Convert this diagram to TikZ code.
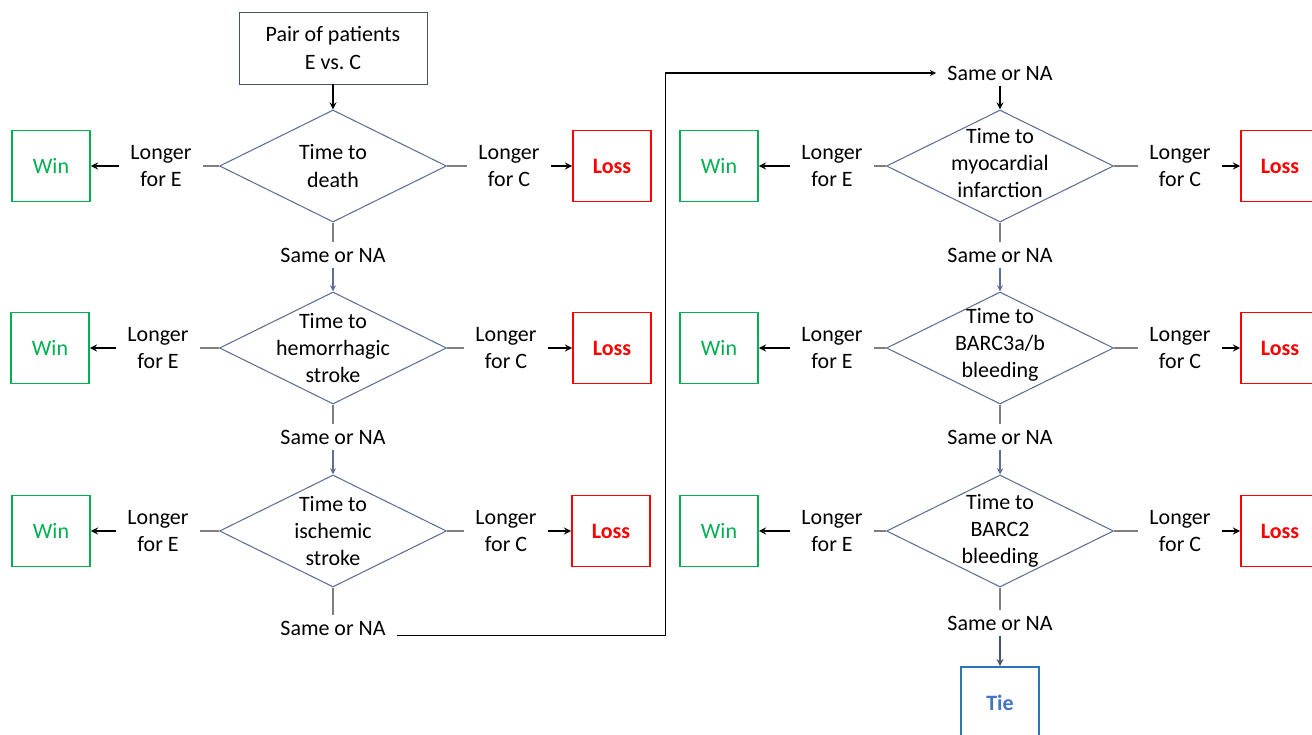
\documentclass[tikz,border=0pt]{standalone}
\usepackage{fontspec}
\setmainfont{Carlito}
\usetikzlibrary{shapes.geometric, arrows}
\definecolor{wingreen}{HTML}{00B050}
\definecolor{lossred}{HTML}{FF0000}
\definecolor{tieblue}{HTML}{4472C4}
\definecolor{tieframe}{HTML}{2E75B6}
\definecolor{diamondblue}{HTML}{5E6F96}
\definecolor{startframe}{HTML}{44546A}
\definecolor{stubgray}{HTML}{7F7F7F}
\newcommand{\figfont}{\fontsize{12.5}{15.4}\selectfont}
\tikzstyle{startbox} = [rectangle, minimum width=3.76cm, minimum height=1.44cm, align=center, draw=startframe, line width=0.5pt]
\tikzstyle{decision} = [diamond, minimum width=4.54cm, minimum height=2.24cm, inner sep=0pt, draw=diamondblue, line width=0.6pt]
\tikzstyle{dtext} = [align=center, inner sep=0pt]
\tikzstyle{win} = [rectangle, minimum width=1.56cm, minimum height=1.42cm, draw=wingreen, text=wingreen, line width=1.1pt]
\tikzstyle{loss} = [rectangle, minimum width=1.56cm, minimum height=1.42cm, draw=lossred, text=lossred, line width=1.1pt, font=\figfont\bfseries]
\tikzstyle{tie} = [rectangle, minimum width=1.56cm, minimum height=1.44cm, draw=tieframe, text=tieblue, line width=1.1pt, font=\figfont\bfseries]
\tikzstyle{lbl} = [align=center, inner xsep=0.22cm, inner ysep=0.1cm]
\tikzstyle{arrow} = [thick,->,>=stealth]
\tikzstyle{stub} = [draw=stubgray, line width=0.7pt]
\tikzstyle{downarrow} = [->,>=stealth, draw=diamondblue, line width=0.6pt]
\tikzstyle{tiearrow} = [thick,->,>=stealth, draw=startframe]

\begin{document}
\begin{tikzpicture}[font=\figfont]
\useasboundingbox (0,0) rectangle (26.24,-14.7);
\clip (0,0) rectangle (26.24,-14.7);

\node (start) [startbox] at (6.66,-0.96) {Pair of patients\\E vs.\ C};

% left column
\node (d1) [decision, below of=start, node distance=2.36cm] {};
\node (d1t) [dtext] at (d1) {Time to\\death};
\node (d2) [decision, below of=d1, node distance=3.64cm] {};
\node (d2t) [dtext] at (d2) {Time to\\hemorrhagic\\stroke};
\node (d3) [decision, below of=d2, node distance=3.66cm] {};
\node (d3t) [dtext] at (d3) {Time to\\ischemic\\stroke};

\node (win1) [win, left of=d1, node distance=5.64cm] {Win};
\node (win2) [win, left of=d2, node distance=5.66cm] {Win};
\node (win3) [win, left of=d3, node distance=5.64cm] {Win};
\node (loss1) [loss, right of=d1, node distance=5.58cm] {Loss};
\node (loss2) [loss, right of=d2, node distance=5.58cm] {Loss};
\node (loss3) [loss, right of=d3, node distance=5.56cm] {Loss};

\node (le1) [lbl, left of=d1, node distance=3.44cm] {Longer\\for E};
\node (le2) [lbl, left of=d2, node distance=3.5cm] {Longer\\for E};
\node (le3) [lbl, left of=d3, node distance=3.5cm] {Longer\\for E};
\node (lc1) [lbl, right of=d1, node distance=3.52cm] {Longer\\for C};
\node (lc2) [lbl, right of=d2, node distance=3.46cm] {Longer\\for C};
\node (lc3) [lbl, right of=d3, node distance=3.46cm] {Longer\\for C};

\node (sna1) [lbl, below of=d1, node distance=1.78cm] {Same or NA};
\node (sna2) [lbl, below of=d2, node distance=1.78cm] {Same or NA};
\node (sna3) [lbl, below of=d3, node distance=1.94cm] {Same or NA};

% right column
\node (d4) [decision, right of=d1, node distance=13.34cm] {};
\node (d4t) [dtext] at ([yshift=0.06cm]d4) {Time to\\myocardial\\infarction};
\node (d5) [decision, below of=d4, node distance=3.64cm] {};
\node (d5t) [dtext] at ([yshift=0.06cm]d5) {Time to\\BARC3a/b\\bleeding};
\node (d6) [decision, below of=d5, node distance=3.66cm] {};
\node (d6t) [dtext] at (d6) {Time to\\BARC2\\bleeding};

\node (win4) [win, left of=d4, node distance=5.62cm] {Win};
\node (win5) [win, left of=d5, node distance=5.62cm] {Win};
\node (win6) [win, left of=d6, node distance=5.62cm] {Win};
\node (loss4) [loss, right of=d4, node distance=5.6cm] {Loss};
\node (loss5) [loss, right of=d5, node distance=5.6cm] {Loss};
\node (loss6) [loss, right of=d6, node distance=5.6cm] {Loss};

\node (le4) [lbl, left of=d4, node distance=3.36cm] {Longer\\for E};
\node (le5) [lbl, left of=d5, node distance=3.36cm] {Longer\\for E};
\node (le6) [lbl, left of=d6, node distance=3.36cm] {Longer\\for E};
\node (lc4) [lbl, right of=d4, node distance=3.6cm] {Longer\\for C};
\node (lc5) [lbl, right of=d5, node distance=3.6cm] {Longer\\for C};
\node (lc6) [lbl, right of=d6, node distance=3.6cm] {Longer\\for C};

\node (sna4) [lbl, above of=d4, node distance=1.86cm] {Same or NA};
\node (sna5) [lbl, below of=d4, node distance=1.78cm] {Same or NA};
\node (sna6) [lbl, below of=d5, node distance=1.78cm] {Same or NA};
\node (sna7) [lbl, below of=d6, node distance=1.84cm] {Same or NA};

\node (tie) [tie, below of=d6, node distance=3.44cm] {Tie};

\draw [arrow] (start) -- (d1);

\draw [stub] (d1.west) -- (le1);
\draw [arrow] (le1) -- (win1);
\draw [stub] (d1.east) -- (lc1);
\draw [arrow] (lc1) -- (loss1);
\draw [stub] (d2.west) -- (le2);
\draw [arrow] (le2) -- (win2);
\draw [stub] (d2.east) -- (lc2);
\draw [arrow] (lc2) -- (loss2);
\draw [stub] (d3.west) -- (le3);
\draw [arrow] (le3) -- (win3);
\draw [stub] (d3.east) -- (lc3);
\draw [arrow] (lc3) -- (loss3);

\draw [stub] (d1.south) -- (sna1);
\draw [downarrow] (sna1) -- (d2);
\draw [stub] (d2.south) -- (sna2);
\draw [downarrow] (sna2) -- (d3);
\draw [stub] (d3.south) -- (sna3);

\draw [arrow, semithick] (sna3.base east) -- ++(5.38cm,0cm) |- (sna4.west);
\draw [arrow] (sna4) -- (d4);

\draw [stub] (d4.west) -- (le4);
\draw [arrow] (le4) -- (win4);
\draw [stub] (d4.east) -- (lc4);
\draw [arrow] (lc4) -- (loss4);
\draw [stub] (d5.west) -- (le5);
\draw [arrow] (le5) -- (win5);
\draw [stub] (d5.east) -- (lc5);
\draw [arrow] (lc5) -- (loss5);
\draw [stub] (d6.west) -- (le6);
\draw [arrow] (le6) -- (win6);
\draw [stub] (d6.east) -- (lc6);
\draw [arrow] (lc6) -- (loss6);

\draw [stub] (d4.south) -- (sna5);
\draw [downarrow] (sna5) -- (d5);
\draw [stub] (d5.south) -- (sna6);
\draw [downarrow] (sna6) -- (d6);
\draw [stub] (d6.south) -- (sna7);
\draw [tiearrow] (sna7) -- (tie);

\end{tikzpicture}
\end{document}
